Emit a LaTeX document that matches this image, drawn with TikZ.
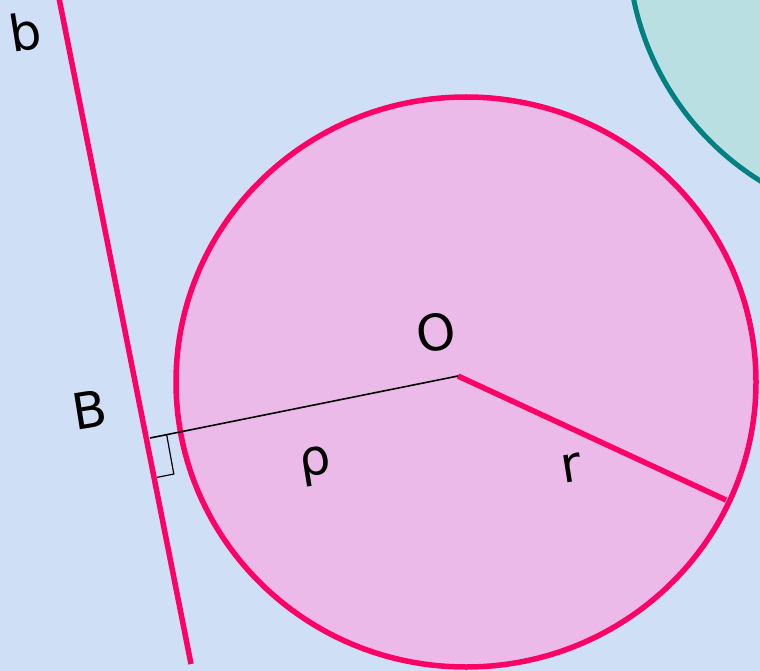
\documentclass[tikz,border=0pt]{standalone}
\usepackage{fontspec}
\setmainfont{DejaVu Sans}
\usetikzlibrary{calc}
\definecolor{sky}{RGB}{207,224,246}
\definecolor{rose}{RGB}{255,0,102}
\definecolor{rosefill}{RGB}{236,186,232}
\definecolor{teal}{RGB}{0,128,128}
\definecolor{tealfill}{RGB}{186,223,226}

\begin{document}
\begin{tikzpicture}[x=1pt,y=-1pt,
thick line/.style={draw=rose,line width=5.5pt},
lbl/.style={font=\fontsize{50}{50}\selectfont,rotate=9,inner sep=0pt}]
\useasboundingbox (0,0) rectangle (760,671);
\clip (0,0) rectangle (760,671);
\fill[sky] (0,0) rectangle (760,671);
\filldraw[fill=tealfill,draw=teal,line width=5pt] (908,-57) circle[radius=280];
\filldraw[fill=rosefill,draw=rose,line width=5.5pt] (466,382) ellipse[x radius=290,y radius=285];
\coordinate (b1) at (59,-2);
\coordinate (b2) at (191,664);
\coordinate (O) at (458,376);
\coordinate (B) at (150,438);
\coordinate (R) at (726,500);
\draw[thick line] (b1)--(b2);
\draw[black,line width=1.6pt] (B)--(O);
\draw[thick line,line cap=butt] (O)--(R);
\coordinate (m1) at ($(B)!17pt!(O)$);
\coordinate (m3) at ($(B)!40pt!(b2)$);
\draw[black,line width=1.2pt] (m1)--($(m1)+(m3)-(B)$)--(m3);
\node[lbl] (lb) at (25,32) {b};
\node[lbl] (lB) at (90,410) {B};
\node[lbl] (lO) at (436,332) {O};
\node[lbl] (lrho) at (316,466) {ρ};
\node[lbl] (lr) at (571,468) {r};
\end{tikzpicture}
\end{document}
